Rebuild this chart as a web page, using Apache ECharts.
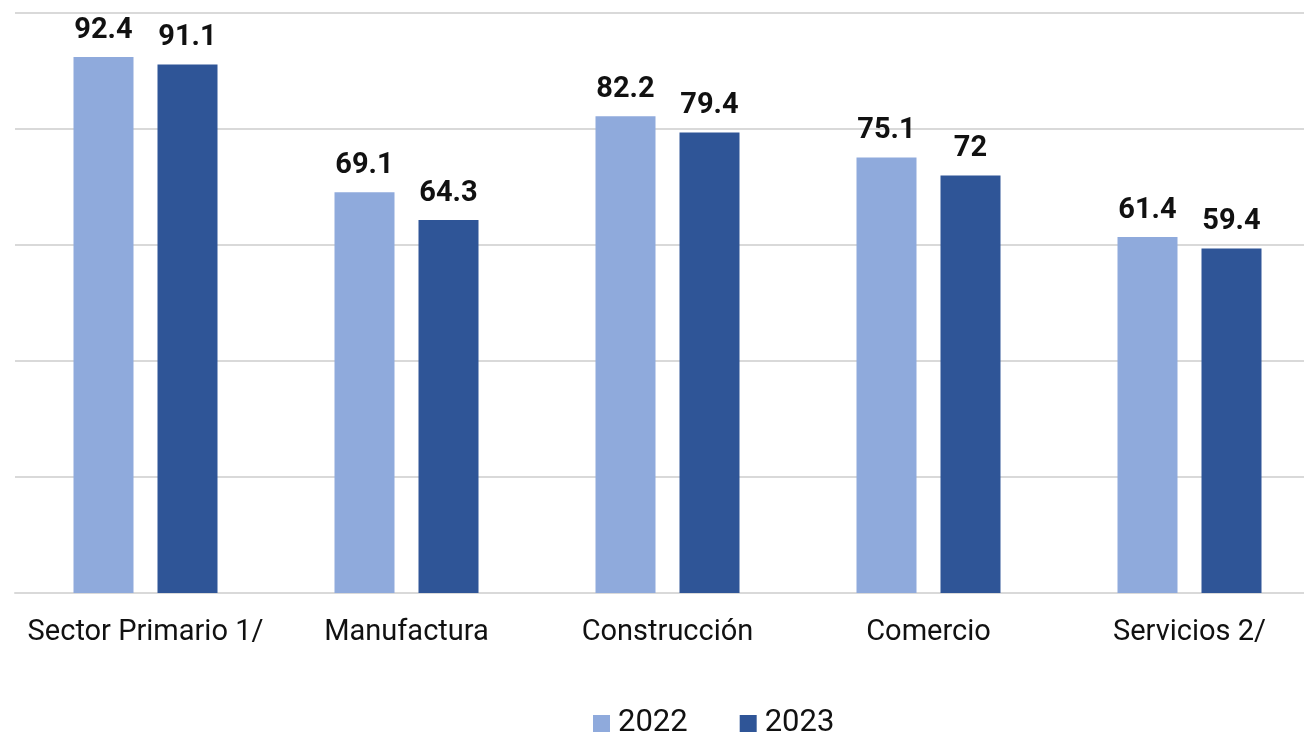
<!DOCTYPE html>
<html><head><meta charset="utf-8">
<script src="https://cdn.jsdelivr.net/npm/echarts@6/dist/echarts.min.js"></script>
<style>html,body{margin:0;padding:0;background:#fff;overflow:hidden;width:1304px;height:732px}#c{width:1340px;height:732px}</style>
</head><body><div id="c"></div>
<script>
const categories = ['Sector Primario 1/', 'Manufactura', 'Construcción', 'Comercio', 'Servicios 2/'];
const values2022 = [92.4, 69.1, 82.2, 75.1, 61.4];
const values2023 = [91.1, 64.3, 79.4, 72, 59.4];
const seriesNames = ['2022', '2023'];

const chart = echarts.init(document.getElementById('c'));
const label = {show: true, position: 'top', distance: 12, fontFamily: 'Roboto', fontWeight: 'bold', fontSize: 29, color: '#111111'};
chart.setOption({
  animation: false,
  textStyle: {fontFamily: 'Roboto'},
  grid: {left: 15, top: 13, width: 1305, height: 580, containLabel: false},
  legend: {
    top: 703, left: 588, itemWidth: 17, itemHeight: 17, itemGap: 52, icon: 'rect',
    textStyle: {fontSize: 31, color: '#111111', fontFamily: 'Roboto', padding: [0, 0, 0, 3]},
    data: seriesNames
  },
  xAxis: {
    type: 'category', data: categories,
    axisLine: {lineStyle: {color: '#d9d9d9', width: 2}},
    axisTick: {show: false},
    axisLabel: {interval: 0, fontSize: 29, color: '#111111', margin: 25, fontFamily: 'Roboto'}
  },
  yAxis: {
    type: 'value', min: 0, max: 100, interval: 20,
    axisLabel: {show: false}, axisLine: {show: false}, axisTick: {show: false},
    splitLine: {lineStyle: {color: '#d9d9d9', width: 2}}
  },
  series: [
    {name: seriesNames[0], type: 'bar', data: values2022, barWidth: 60, barGap: '40%', itemStyle: {color: '#8faadc'}, label},
    {name: seriesNames[1], type: 'bar', data: values2023, barWidth: 60, barGap: '40%', itemStyle: {color: '#2f5597'}, label}
  ]
});
</script></body></html>
